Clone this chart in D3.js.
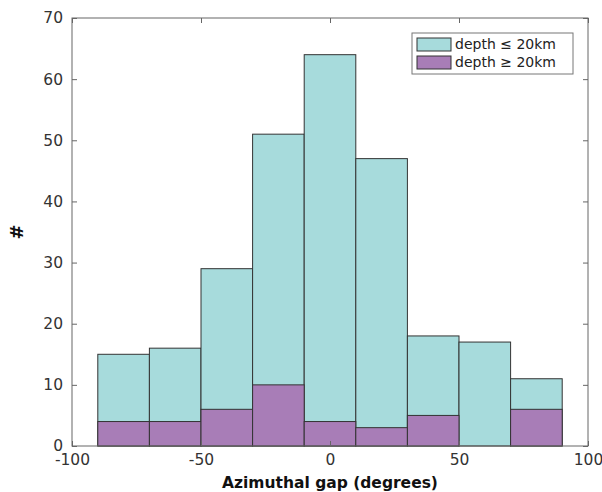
<!DOCTYPE html>
<html>
<head>
<meta charset="utf-8" />
<script src="https://d3js.org/d3.v7.min.js"></script>
<style>
body { margin: 0; background: #fff; }
text { font-family: "DejaVu Sans", sans-serif; }
</style>
</head>
<body>
<div id="chart"></div>
<script>
// bins of 20 degrees
var binStarts = [-90, -70, -50, -30, -10, 10, 30, 50, 70];
var shallow = [15, 16, 29, 51, 64, 47, 18, 17, 11];
var deep = [4, 4, 6, 10, 4, 3, 5, 0, 6];
var xTicks = [-100, -50, 0, 50, 100];
var yTicks = [0, 10, 20, 30, 40, 50, 60, 70];
var binWidth = 20;

var width = 602, height = 492;
var pLeft = 72, pRight = 588, pTop = 18, pBottom = 446;

var svg = d3.select("#chart").append("svg")
    .attr("width", width).attr("height", height);

var x = d3.scaleLinear().domain([-100, 100]).range([pLeft, pRight]);
var y = d3.scaleLinear().domain([0, 70]).range([pBottom, pTop]);

svg.selectAll(".shallow").data(binStarts).enter().append("rect")
    .attr("class", "shallow")
    .attr("x", function (d) { return x(d); })
    .attr("width", function (d) { return x(d + binWidth) - x(d); })
    .attr("y", function (d, i) { return y(shallow[i]); })
    .attr("height", function (d, i) { return y(0) - y(shallow[i]); })
    .attr("fill", "#a7dbdc")
    .attr("stroke", "#333")
    .attr("stroke-width", 1);

svg.selectAll(".deep").data(binStarts).enter().append("rect")
    .attr("class", "deep")
    .attr("x", function (d) { return x(d); })
    .attr("width", function (d) { return x(d + binWidth) - x(d); })
    .attr("y", function (d, i) { return y(deep[i]); })
    .attr("height", function (d, i) { return y(0) - y(deep[i]); })
    .attr("fill", "#a87db7")
    .attr("stroke", "#333")
    .attr("stroke-width", 1);

// axes, ticks inward, mirrored on top/right
var axisColor = "#666";
var fmt = function (d) { return String(d); };
function styleAxis(g) {
    g.select(".domain").remove();
    g.selectAll("line").attr("stroke", axisColor);
    g.selectAll("text").attr("fill", "#333").attr("font-size", "15.5px");
}
svg.append("g").attr("transform", "translate(0," + pBottom + ")")
    .call(d3.axisBottom(x).tickValues(xTicks).tickFormat(fmt).tickSizeInner(-5).tickPadding(8).tickSizeOuter(0))
    .call(styleAxis);
svg.append("g").attr("transform", "translate(" + pLeft + ",0)")
    .call(d3.axisLeft(y).tickValues(yTicks).tickFormat(fmt).tickSizeInner(-5).tickPadding(9).tickSizeOuter(0))
    .call(styleAxis);
svg.append("g").attr("transform", "translate(0," + pTop + ")")
    .call(d3.axisTop(x).tickValues(xTicks).tickSizeInner(-5).tickFormat("").tickSizeOuter(0))
    .call(styleAxis);
svg.append("g").attr("transform", "translate(" + pRight + ",0)")
    .call(d3.axisRight(y).tickValues(yTicks).tickSizeInner(-5).tickFormat("").tickSizeOuter(0))
    .call(styleAxis);

svg.append("rect")
    .attr("x", pLeft).attr("y", pTop)
    .attr("width", pRight - pLeft).attr("height", pBottom - pTop)
    .attr("fill", "none").attr("stroke", axisColor).attr("stroke-width", 1);

// labels
svg.append("text")
    .attr("x", 330).attr("y", 488)
    .attr("text-anchor", "middle")
    .attr("font-size", "15.5px").attr("font-weight", "bold").attr("fill", "#111")
    .text("Azimuthal gap (degrees)");

svg.append("text")
    .attr("transform", "translate(23," + (pTop + pBottom) / 2 + ") rotate(-90)")
    .attr("text-anchor", "middle")
    .attr("font-size", "18px").attr("font-weight", "bold").attr("fill", "#111")
    .text("#");

// legend
var legend = svg.append("g").attr("transform", "translate(412,33)");
legend.append("rect")
    .attr("width", 161).attr("height", 41)
    .attr("fill", "#fff").attr("stroke", "#777");
var legendItems = [
    { label: "depth \u2264 20km", color: "#a7dbdc" },
    { label: "depth \u2265 20km", color: "#a87db7" }
];
legendItems.forEach(function (d, i) {
    legend.append("rect")
        .attr("x", 5).attr("y", 5 + i * 18)
        .attr("width", 34).attr("height", 13)
        .attr("fill", d.color).attr("stroke", "#333");
    legend.append("text")
        .attr("x", 43).attr("y", 16 + i * 18)
        .attr("font-size", "14px").attr("fill", "#222")
        .text(d.label);
});
</script>
</body>
</html>
